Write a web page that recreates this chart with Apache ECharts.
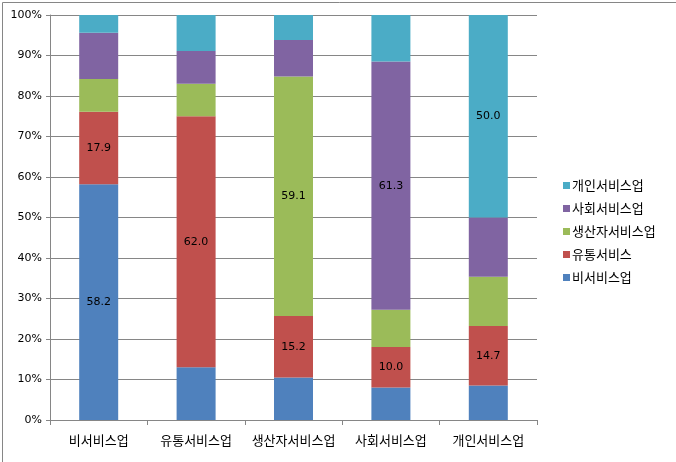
<!DOCTYPE html>
<html><head><meta charset="utf-8">
<script src="https://cdn.jsdelivr.net/npm/echarts@6/dist/echarts.min.js"></script>
<style>html,body{margin:0;padding:0;background:#fff}#c{width:676px;height:462px}</style>
</head><body><div id="c"></div>
<script>
const categories = ['비서비스업','유통서비스업','생산자서비스업','사회서비스업','개인서비스업'];
const seriesNames = ['비서비스업','유통서비스','생산자서비스업','사회서비스업','개인서비스업'];
const s_bi   = [58.2, 13.0, 10.5, 8.0, 8.5];
const s_yu   = [17.9, 62.0, 15.2, 10.0, 14.7];
const s_sa   = [8.1, 8.0, 59.1, 9.2, 12.2];
const s_so   = [11.4, 8.1, 9.0, 61.3, 14.6];
const s_ga   = [4.4, 8.9, 6.2, 11.5, 50.0];
// which category index shows a value label for each series
const labeled = [[0], [0,1,2,3,4], [2], [3], [4]];
const yTicks = ['0%','10%','20%','30%','40%','50%','60%','70%','80%','90%','100%'];

const colors = ['#4F81BD','#C0504D','#9BBB59','#8064A2','#4BACC6'];
const allData = [s_bi, s_yu, s_sa, s_so, s_ga];
const font = '"Noto Sans CJK KR", sans-serif';

const chart = echarts.init(document.getElementById('c'), null, {renderer:'canvas'});
const series = allData.map((arr, si) => ({
  name: seriesNames[si],
  type: 'bar',
  stack: 'total',
  barWidth: 39,
  itemStyle: { color: colors[si] },
  data: arr.map((v, ci) => ({
    value: v,
    label: {
      show: labeled[si].indexOf(ci) >= 0,
      position: 'inside',
      formatter: p => p.value.toFixed(1),
      color: '#000',
      fontSize: 11,
      fontFamily: 'Tahoma, "DejaVu Sans", sans-serif'
    }
  }))
}));

chart.setOption({
  animation: false,
  color: colors,
  graphic: [{
    type: 'rect', left: 0, top: 0, silent: true,
    shape: { x: 0.5, y: 0.5, width: 675, height: 461 },
    style: { fill: 'none', stroke: '#868686', lineWidth: 1 }
  }],
  grid: { left: 50, right: 139, top: 15, bottom: 42, containLabel: false },
  legend: {
    orient: 'vertical',
    left: 558, top: 174,
    itemWidth: 7, itemHeight: 7, itemGap: 10,
    icon: 'rect',
    data: seriesNames.slice().reverse(),
    textStyle: { fontFamily: font, fontSize: 13, color: '#000', padding: [0,0,0,-3] }
  },
  xAxis: {
    type: 'category',
    data: categories,
    axisLine: { lineStyle: { color: '#868686' } },
    axisTick: { show: true, alignWithLabel: false, length: 5, lineStyle: { color: '#868686' } },
    axisLabel: { fontFamily: font, fontSize: 13, color: '#000', margin: 14, interval: 0 }
  },
  yAxis: {
    type: 'value', min: 0, max: 100, interval: 10,
    axisLine: { show: true, lineStyle: { color: '#868686' } },
    axisTick: { show: true, length: 4, lineStyle: { color: '#868686' } },
    splitLine: { lineStyle: { color: '#868686' } },
    axisLabel: {
      fontFamily: 'Tahoma, "DejaVu Sans", sans-serif', fontSize: 11, color: '#000', margin: 8,
      formatter: v => yTicks[Math.round(v/10)]
    }
  },
  series: series
});
</script></body></html>
